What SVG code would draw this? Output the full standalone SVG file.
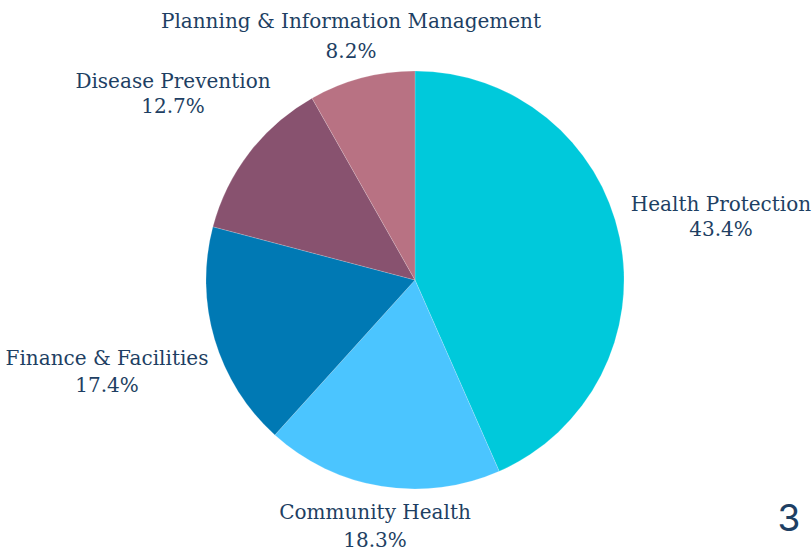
<svg xmlns="http://www.w3.org/2000/svg" width="812" height="552" viewBox="0 0 812 552">
<style>
.slice{stroke:#ffffff;stroke-width:0.5;stroke-opacity:0.35}
.lbl{font-family:"DejaVu Serif","Liberation Serif",serif;font-size:20px;fill:#1e3f63;text-anchor:middle}
.pg{font-family:Inter,"Liberation Sans",sans-serif;font-size:37px;fill:#1e3f63;text-anchor:middle;font-weight:400}
</style>
<rect width="812" height="552" fill="#ffffff"/>
<g id="connectors"></g>
<g id="health-protection">
<path class="slice" fill="#00C9DB" d="M415,280 L415,71 A209,209 0 0 1 499.21,471.29 Z"/>
<text class="lbl" x="721" y="211">Health Protection</text>
<text class="lbl" x="721" y="236">43.4%</text>
</g>
<g id="community-health">
<path class="slice" fill="#4BC5FF" d="M415,280 L499.21,471.29 A209,209 0 0 1 274.83,435.02 Z"/>
<text class="lbl" x="375" y="519">Community Health</text>
<text class="lbl" x="375" y="547">18.3%</text>
</g>
<g id="finance-facilities">
<path class="slice" fill="#0079B4" d="M415,280 L274.83,435.02 A209,209 0 0 1 212.89,226.75 Z"/>
<text class="lbl" x="107" y="365">Finance &amp; Facilities</text>
<text class="lbl" x="107" y="391.5">17.4%</text>
</g>
<g id="disease-prevention">
<path class="slice" fill="#88526F" d="M415,280 L212.89,226.75 A209,209 0 0 1 312.02,98.13 Z"/>
<text class="lbl" x="173" y="87.5">Disease Prevention</text>
<text class="lbl" x="173" y="113">12.7%</text>
</g>
<g id="planning-information-management">
<path class="slice" fill="#B87283" d="M415,280 L312.02,98.13 A209,209 0 0 1 415,71 Z"/>
<text class="lbl" x="351" y="28">Planning &amp; Information Management</text>
<text class="lbl" x="351" y="58">8.2%</text>
</g>
<text class="pg" x="789" y="531">3</text>
</svg>
